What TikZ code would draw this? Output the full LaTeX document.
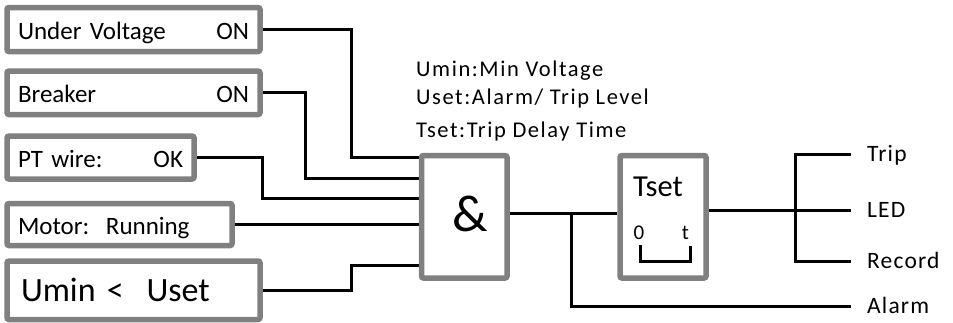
\documentclass[tikz,border=0pt]{standalone}
\usepackage{fontspec}
\setmainfont{Carlito}
\newfontfamily\notefont{Carlito}[LetterSpace=7]
\newfontfamily\outfont{Carlito}[LetterSpace=5]
\usetikzlibrary{calc, positioning, backgrounds}

\definecolor{boxgray}{RGB}{128,128,128}

\begin{document}
\begin{tikzpicture}[x=1pt, y=-1pt,
    box/.style={draw=boxgray, line width=5.5pt, rounded corners=2pt, inner xsep=11pt, inner ysep=0pt, text height=22pt, text depth=3pt, font=\fontsize{25}{29}\selectfont},
    wire/.style={line width=3pt},
    outlabel/.style={anchor=west, inner xsep=16pt, inner ysep=0pt, text height=15pt, text depth=0pt, font=\outfont\fontsize{23.5}{28}\selectfont},
    note/.style={anchor=base west, inner sep=0pt, font=\notefont\fontsize{22.5}{27}\selectfont}]
  \useasboundingbox (0,0) rectangle (953,322);

  % Input condition boxes
  \node[box, minimum width=253pt, minimum height=44pt, text width=231pt] (uv) at (133.5,29.5) {Under Voltage\hfill ON};
  \node[box, minimum width=253pt, minimum height=43.5pt, text width=231pt] (brk) at (133.5,92.75) {Breaker\hfill ON};
  \node[box, minimum width=187pt, minimum height=43pt, text width=165pt] (pt) at (100.5,157.5) {PT wire:\hfill OK};
  \node[box, minimum width=225pt, minimum height=42pt, text width=203pt] (mot) at (119.5,224.5) {Motor:\ \ Running};
  \node[box, minimum width=253pt, minimum height=58.5pt, inner xsep=14pt, text width=225pt, text height=26pt, text depth=3pt, font=\fontsize{34}{40}\selectfont] (umin) at (133.5,290.25) {Umin <\ \ Uset};

  % Legend
  \node[note] (n1) at (416,76) {Umin:Min Voltage};
  \node[note] (n2) at (416,104) {Uset:Alarm/ Trip Level};
  \node[note] (n3) at (416,137) {Tset:Trip Delay Time};

  % AND gate and timer
  \node[box, minimum width=85.5pt, minimum height=122.5pt, text height=34pt, text depth=4pt, font=\fontsize{52}{60}\selectfont] (and) at (464.25,216.75) {\kern12pt\&};
  \node[box, minimum width=86pt, minimum height=122.5pt] (tset) at (663,216.75) {};
  \node[anchor=base, font=\fontsize{30.5}{36}\selectfont] (tsetlbl) at (658,196) {Tset};
  \node[anchor=base, font=\fontsize{21}{25}\selectfont] (t0) at (639,239) {0};
  \node[anchor=base, font=\fontsize{21}{25}\selectfont] (t1) at (685.5,239) {t};
  \draw[wire] (640,245) |- (690,261) -- (690,246);

  % Outputs
  \node[outlabel] (trip) at (851,154) {Trip};
  \node[outlabel] (led) at (851,210) {LED};
  \node[outlabel] (rec) at (851,261) {Record};
  \node[outlabel] (alarm) at (851,306) {Alarm};

  % Wires
  \begin{scope}[on background layer]
    \coordinate (in1) at ($(and.north west)+(0,4.5)$);
    \coordinate (in2) at ($(and.north west)+(0,25.5)$);
    \coordinate (in3) at ($(and.north west)+(0,45.5)$);
    \coordinate (in5) at ($(and.north west)+(0,112.5)$);
    \draw[wire] (uv.east) -- ++(89,0) |- (in1);
    \draw[wire] (brk.east) -- ++(43,0) |- (in2);
    \draw[wire] (pt.east) -- ++(66,0) |- (in3);
    \draw[wire] (mot.east) -- (and.west |- mot.east);
    \draw[wire] (umin.east) -- ++(89,0) |- (in5);

    \coordinate (aout) at ($(and.east)+(0,-3.75)$);
    \coordinate (br) at ($(aout)+(62,0)$);
    \draw[wire] (aout) -- (aout -| tset.west);
    \draw[wire] (br) |- (alarm.west);

    \coordinate (tout) at ($(tset.east)+(0,-6.75)$);
    \draw[wire] (tout) -- ++(87,0) coordinate (bus) -- (led.west);
    \draw[wire] (trip.west) -| (bus) |- (rec.west);
  \end{scope}
\end{tikzpicture}
\end{document}
